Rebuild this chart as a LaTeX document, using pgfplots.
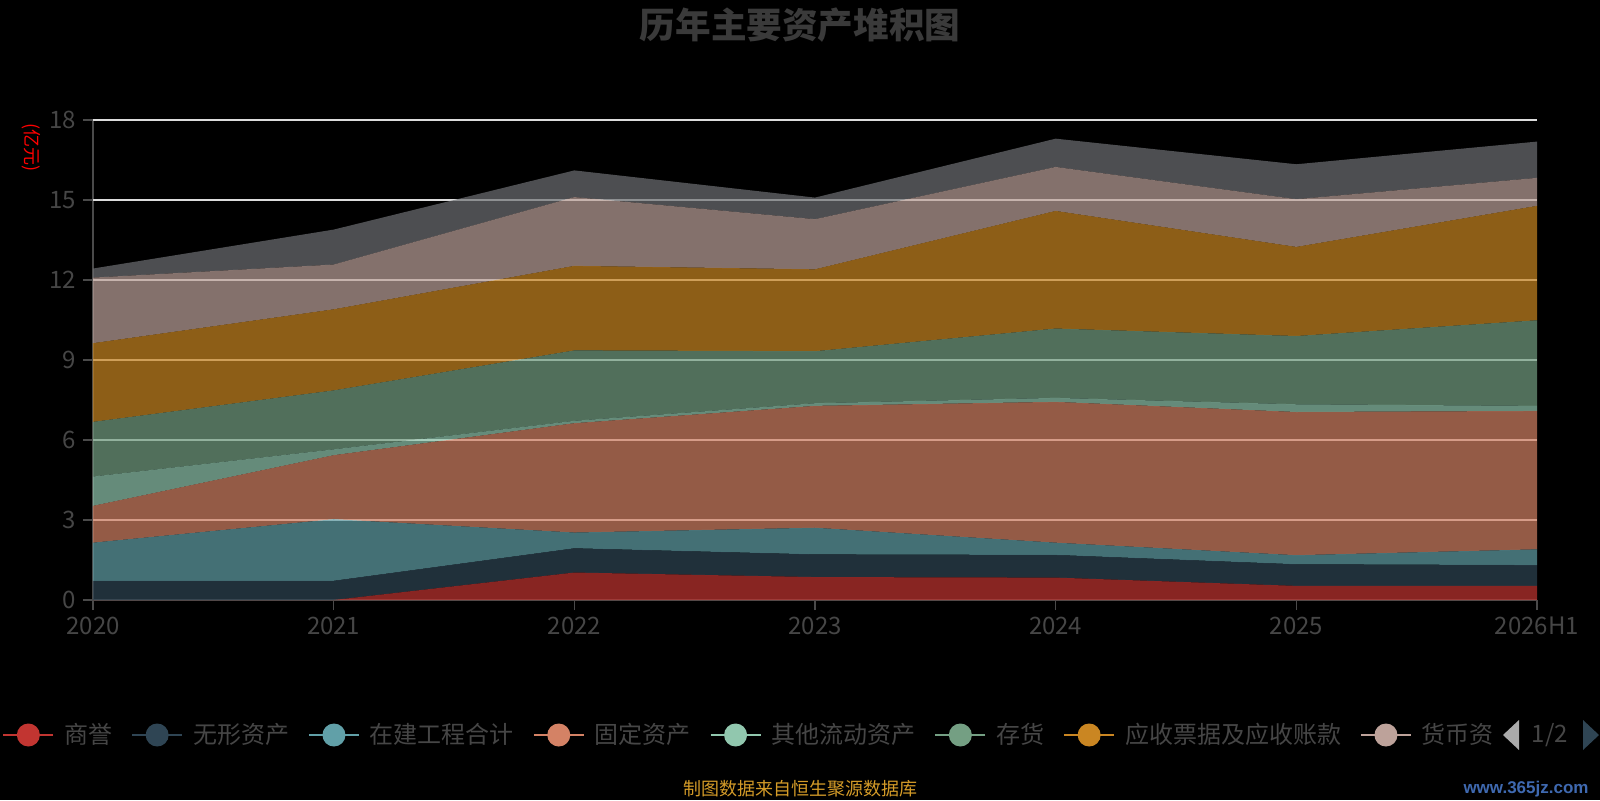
\documentclass[border=0pt]{standalone}
\usepackage{pgfplots}
\pgfplotsset{compat=1.18}
\usepackage{fontspec}
\setmainfont{Noto Sans CJK SC}
\setsansfont{Noto Sans CJK SC}
\newfontfamily\wmfont{Liberation Sans}
\definecolor{c1}{HTML}{C23531}
\definecolor{c2}{HTML}{2F4554}
\definecolor{c3}{HTML}{61A0A8}
\definecolor{c4}{HTML}{D48265}
\definecolor{c5}{HTML}{91C7AE}
\definecolor{c6}{HTML}{749F83}
\definecolor{c7}{HTML}{CA8622}
\definecolor{c8}{HTML}{BDA29A}
\definecolor{c9}{HTML}{6E7074}
\definecolor{labgray}{HTML}{464646}
\definecolor{axisgray}{HTML}{4A4A4A}
\definecolor{gridc}{HTML}{DCDCDC}
\definecolor{titlec}{HTML}{3A3A3A}
\definecolor{footc}{HTML}{D49B28}
\definecolor{wmc}{HTML}{3F69B0}
\pgfplotsset{
  myleg/.style={legend image code/.code={
    \draw[#1, draw opacity=1, line width=1pt] (0pt,0pt) -- (25pt,0pt);
    \fill[#1, fill opacity=1] (12.5pt,0pt) circle (5.75pt);}},
}
\begin{document}
\begin{tikzpicture}
\fill[black] (0,0) rectangle (800pt,400pt);
\node[text=titlec, font=\fontsize{17.8pt}{18pt}\selectfont\bfseries] at (400pt,387.5pt) {历年主要资产堆积图};
\node[text=red, rotate=-90, font=\fontsize{9pt}{9pt}\selectfont] at (15.5pt,326pt) {(亿元)};
\begin{axis}[
  at={(46.5pt,100pt)}, anchor=south west,
  scale only axis, width=722pt, height=240pt,
  xmin=0, xmax=6, ymin=0, ymax=18,
  stack plots=y,
  xtick={0,1,2,3,4,5,6},
  xticklabels={2020,2021,2022,2023,2024,2025,2026H1},
  ytick={0,3,6,9,12,15,18},
  extra y ticks={3,6,9,12,15,18},
  extra y tick labels={},
  extra y tick style={grid=major, major tick length=0pt},
  major grid style={color=gridc, line width=0.75pt},
  axis x line*=bottom, axis y line*=left,
  axis line style={color=axisgray, line width=0.75pt},
  tick style={color=axisgray, line width=0.75pt},
  tick align=outside, major tick length=5pt,
  /pgf/number format/assume math mode=true,
  ticklabel style={font=\fontsize{12pt}{12pt}\selectfont, text=labgray},
  legend columns=8,
  legend style={at={(-0.0672,-0.28125)}, anchor=west, draw=none, fill=none,
    text=labgray, font=\fontsize{12pt}{12pt}\selectfont,
    nodes={inner sep=0pt},
    /tikz/every odd column/.append style={column sep=5pt},
    /tikz/every even column/.append style={column sep=9.4pt}},
  legend cell align=left,
]
\addplot[draw=none, fill=c1, fill opacity=0.7, myleg=c1] coordinates {(0,0) (1,0) (2,1.03) (3,0.86) (4,0.84) (5,0.53) (6,0.53)} \closedcycle;
\addlegendentry{商誉}
\addplot[draw=none, fill=c2, fill opacity=0.7, myleg=c2] coordinates {(0,0.72) (1,0.72) (2,0.91) (3,0.85) (4,0.85) (5,0.81) (6,0.78)} \closedcycle;
\addlegendentry{无形资产}
\addplot[draw=none, fill=c3, fill opacity=0.7, myleg=c3] coordinates {(0,1.43) (1,2.31) (2,0.59) (3,1.00) (4,0.46) (5,0.34) (6,0.59)} \closedcycle;
\addlegendentry{在建工程合计}
\addplot[draw=none, fill=c4, fill opacity=0.7, myleg=c4] coordinates {(0,1.38) (1,2.40) (2,4.10) (3,4.57) (4,5.28) (5,5.37) (6,5.19)} \closedcycle;
\addlegendentry{固定资产}
\addplot[draw=none, fill=c5, fill opacity=0.7, myleg=c5] coordinates {(0,1.10) (1,0.22) (2,0.09) (3,0.10) (4,0.15) (5,0.29) (6,0.19)} \closedcycle;
\addlegendentry{其他流动资产}
\addplot[draw=none, fill=c6, fill opacity=0.7, myleg=c6] coordinates {(0,2.05) (1,2.21) (2,2.64) (3,1.95) (4,2.60) (5,2.56) (6,3.21)} \closedcycle;
\addlegendentry{存货}
\addplot[draw=none, fill=c7, fill opacity=0.7, myleg=c7] coordinates {(0,2.95) (1,3.04) (2,3.17) (3,3.07) (4,4.41) (5,3.34) (6,4.29)} \closedcycle;
\addlegendentry{应收票据及应收账款}
\addplot[draw=none, fill=c8, fill opacity=0.7, myleg=c8] coordinates {(0,2.46) (1,1.68) (2,2.58) (3,1.88) (4,1.65) (5,1.79) (6,1.05)} \closedcycle;
\addlegendentry{货币资}
\addplot[draw=none, fill=c9, fill opacity=0.7] coordinates {(0,0.34) (1,1.31) (2,1.00) (3,0.81) (4,1.06) (5,1.31) (6,1.36)} \closedcycle;
\end{axis}
\fill[color={rgb,255:red,170;green,170;blue,170}] (759.5pt,40pt) -- (759.5pt,25pt) -- (751.5pt,32.5pt) -- cycle;
\node[text=labgray, font=\fontsize{12pt}{12pt}\selectfont] at (775pt,32.5pt) {1/2};
\fill[c2] (791.5pt,40pt) -- (791.5pt,25pt) -- (799.5pt,32.5pt) -- cycle;
\node[text=footc, font=\fontsize{9pt}{9pt}\selectfont] at (400pt,5.5pt) {制图数据来自恒生聚源数据库};
\node[text=wmc, font=\wmfont\bfseries\fontsize{8.5pt}{9pt}\selectfont] at (763pt,5.5pt) {www.365jz.com};
\pgfresetboundingbox
\path[use as bounding box] (0,0) rectangle (800pt,400pt);
\end{tikzpicture}
\end{document}
